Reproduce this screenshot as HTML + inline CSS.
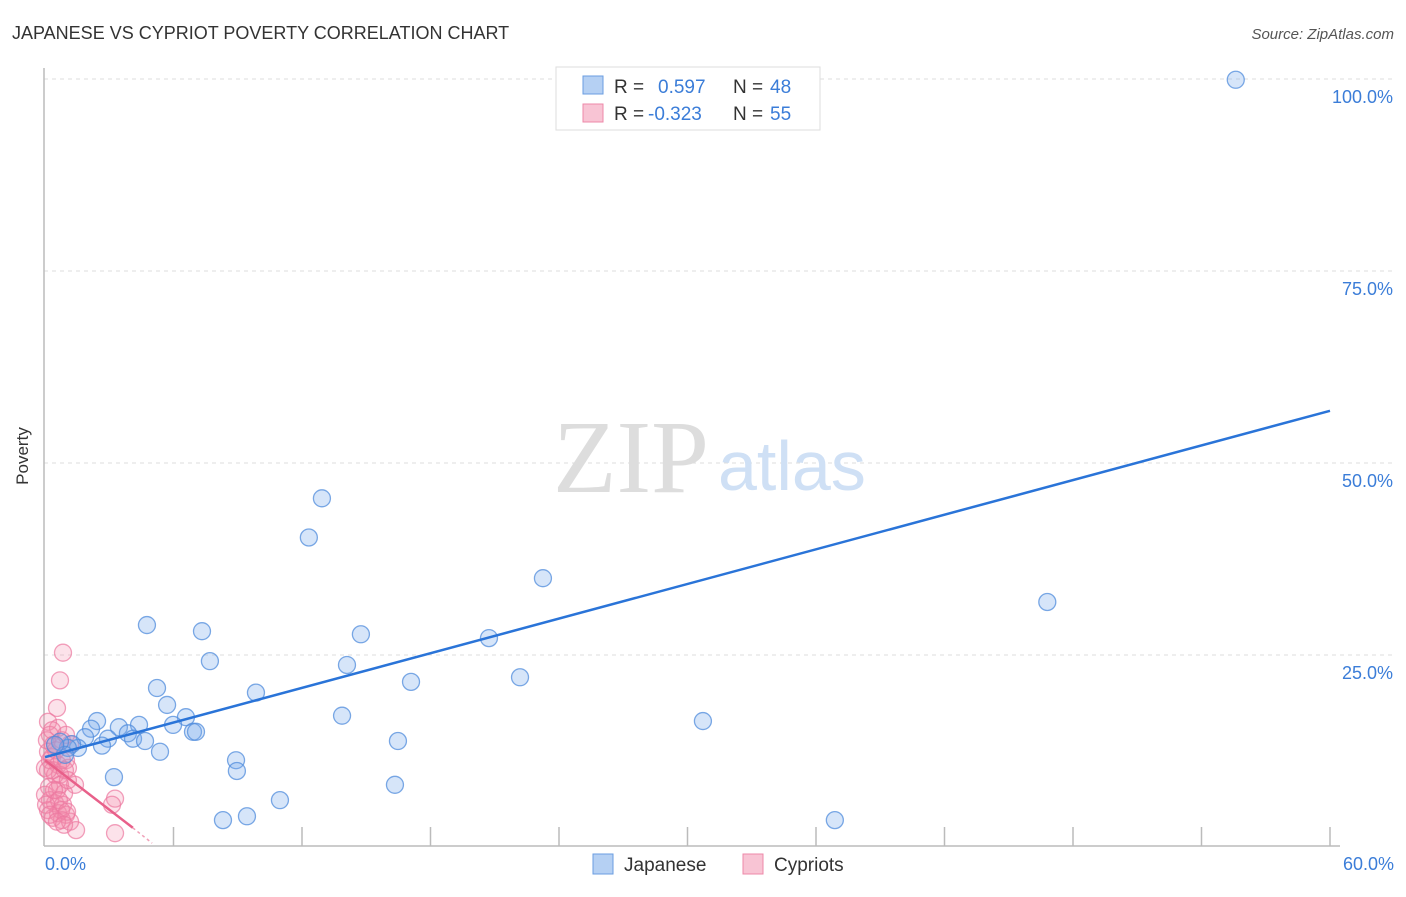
<!DOCTYPE html>
<html><head><meta charset="utf-8"><style>
body{margin:0;background:#fff;font-family:"Liberation Sans",sans-serif}
</style></head><body>
<svg width="1406" height="892" xmlns="http://www.w3.org/2000/svg" font-family="Liberation Sans, sans-serif" id="chart">
<text x="12" y="39" font-size="18" fill="#333">JAPANESE VS CYPRIOT POVERTY CORRELATION CHART</text>
<text x="1394" y="39" font-size="15" fill="#555" font-style="italic" text-anchor="end">Source: ZipAtlas.com</text>
<text x="28" y="456" font-size="17" fill="#333" transform="rotate(-90 28 456)" text-anchor="middle">Poverty</text>
<g id="grid"></g>
<g id="yticks"></g>
<line x1="44" y1="68" x2="44" y2="846" stroke="#bbb" stroke-width="1.5"/>
<line x1="44" y1="846" x2="1340" y2="846" stroke="#bbb" stroke-width="1.5"/>
<g id="xticks"></g>
<text x="45" y="870" font-size="18" fill="#3b7dd8">0.0%</text>
<text x="1394" y="870" font-size="18" fill="#3b7dd8" text-anchor="end">60.0%</text>
<text x="553" y="492" font-size="104" fill="#ddd" font-family="Liberation Serif, serif">ZIP</text>
<text x="718" y="490" font-size="70" fill="#cfe0f5">atlas</text>
<g id="pts"></g>
<g id="lines"></g>
<g>
<rect x="556" y="67" width="264" height="63" fill="#fff" stroke="#ddd"/>
<rect x="583" y="76" width="20" height="18" fill="#b5d0f3" stroke="#6a9de0"/>
<text x="614" y="93" font-size="19" fill="#333">R =</text>
<text x="658" y="93" font-size="19" fill="#3b7dd8">0.597</text>
<text x="733" y="93" font-size="19" fill="#333">N =</text>
<text x="770" y="93" font-size="19" fill="#3b7dd8">48</text>
<rect x="583" y="104" width="20" height="18" fill="#f8c4d4" stroke="#ee88a8"/>
<text x="614" y="120" font-size="19" fill="#333">R =</text>
<text x="648" y="120" font-size="19" fill="#3b7dd8">-0.323</text>
<text x="733" y="120" font-size="19" fill="#333">N =</text>
<text x="770" y="120" font-size="19" fill="#3b7dd8">55</text>
</g>
<g><rect x="593" y="854" width="20" height="20" fill="#b5d0f3" stroke="#6a9de0"/><text x="624" y="871" font-size="19" fill="#333">Japanese</text></g>
<g><rect x="743" y="854" width="20" height="20" fill="#f8c4d4" stroke="#ee88a8"/><text x="774" y="871" font-size="19" fill="#333">Cypriots</text></g>
</svg>
<script>
const yTicks=[25,50,75,100];
const yTickLabels=["25.0%","50.0%","75.0%","100.0%"];
const xTicks=[6,12,18,24,30,36,42,48,54,60];
const japaneseX=[55.6,12.93,12.32,23.25,46.8,4.76,7.33,14.75,20.73,7.70,14.10,22.18,17.09,5.23,9.85,5.70,13.87,30.72,2.43,6.58,3.45,4.39,5.98,2.15,3.87,6.91,7.05,1.87,2.94,4.11,4.67,16.48,2.66,1.54,1.26,1.07,5.37,8.92,8.96,3.22,16.34,10.97,8.31,9.43,36.88,0.70,0.93,0.47];
const japaneseY=[99.9,45.4,40.3,35.0,31.9,28.9,28.1,27.7,27.2,24.2,23.7,22.1,21.5,20.7,20.1,18.5,17.1,16.4,16.4,16.9,15.6,15.9,15.9,15.4,14.8,15.0,15.0,14.3,14.1,14.1,13.8,13.8,13.2,12.9,13.4,12.9,12.4,11.3,9.9,9.1,8.1,6.1,3.5,4.0,3.5,13.7,12.0,13.3];
const cypriotX=[0.84,0.70,0.56,0.14,0.61,0.23,0.79,0.47,1.17,0.14,0.33,0.98,0.61,0.0,0.37,1.07,0.70,1.40,0.19,0.56,0.89,0.23,0.47,0.84,0.14,0.61,0.98,0.37,0.79,1.17,3.27,3.13,1.45,3.27,0.09,0.23,0.47,0.70,0.0,0.33,0.51,0.79,0.93,1.07,0.42,0.65,0.05,0.75,1.03,0.23,0.56,0.89,0.14,0.37,0.98];
const cypriotY=[25.3,21.7,18.1,16.3,15.5,14.6,13.9,13.3,13.4,12.4,11.7,11.3,10.7,10.3,10.0,10.3,9.4,8.1,7.8,7.4,7.0,6.1,5.7,5.5,4.8,4.4,4.2,3.8,3.5,3.3,6.3,5.5,2.2,1.8,13.9,11.3,9.4,8.1,6.8,15.2,12.6,11.3,10.0,8.7,7.4,6.1,5.5,4.8,4.6,4.2,3.3,2.9,10.0,13.3,14.6];
const japaneseTrend=[[0,11.7],[60,56.8]];
const cypriotTrend=[[0,11.3],[4.1,2.5]];
const cypriotTrendExt=[[4.1,2.5],[5.0,0.5]];
const NS="http://www.w3.org/2000/svg";
const sx=v=>45+v*(1285/60);
const sy=v=>847-v*7.68;
function mk(t,a,p){const e=document.createElementNS(NS,t);for(const k in a)e.setAttribute(k,a[k]);p.appendChild(e);return e;}
const grid=document.getElementById('grid'),yt=document.getElementById('yticks'),xt=document.getElementById('xticks');
yTicks.forEach((v,i)=>{
 const l=mk('line',{x1:44,x2:1394,y1:sy(v),y2:sy(v),stroke:'#ddd','stroke-dasharray':'4,4'},grid);
 
 
 const t=mk('text',{x:1393,y:sy(v)+24,'font-size':18,fill:'#3b7dd8','text-anchor':'end'},yt);
 t.textContent=yTickLabels[i];
 
 
});
xTicks.forEach(v=>{
 const l=mk('line',{x1:sx(v),x2:sx(v),y1:827,y2:846,stroke:'#bbb','stroke-width':1.5},xt);
 
 
});
const pts=document.getElementById('pts');
cypriotX.forEach((x,i)=>{
 const c=mk('circle',{cx:sx(x),cy:sy(cypriotY[i]),r:8.5,fill:'rgba(242,140,170,0.25)',stroke:'rgba(236,120,160,0.7)','stroke-width':1.3},pts);
 
 
});
japaneseX.forEach((x,i)=>{
 const c=mk('circle',{cx:sx(x),cy:sy(japaneseY[i]),r:8.5,fill:'rgba(120,170,235,0.3)',stroke:'rgba(80,140,220,0.75)','stroke-width':1.3},pts);
 
 
});
const lines=document.getElementById('lines');
const jl=mk('line',{x1:sx(japaneseTrend[0][0]),y1:sy(japaneseTrend[0][1]),x2:sx(japaneseTrend[1][0]),y2:sy(japaneseTrend[1][1]),stroke:'#2a74d8','stroke-width':2.5},lines);


const cl=mk('line',{x1:sx(cypriotTrend[0][0]),y1:sy(cypriotTrend[0][1]),x2:sx(cypriotTrend[1][0]),y2:sy(cypriotTrend[1][1]),stroke:'#e8608a','stroke-width':2.5},lines);


const ce=mk('line',{x1:sx(cypriotTrendExt[0][0]),y1:sy(cypriotTrendExt[0][1]),x2:sx(cypriotTrendExt[1][0]),y2:sy(cypriotTrendExt[1][1]),stroke:'#f0a0b8','stroke-width':1.5,'stroke-dasharray':'3,3'},lines);


</script>
</body></html>
